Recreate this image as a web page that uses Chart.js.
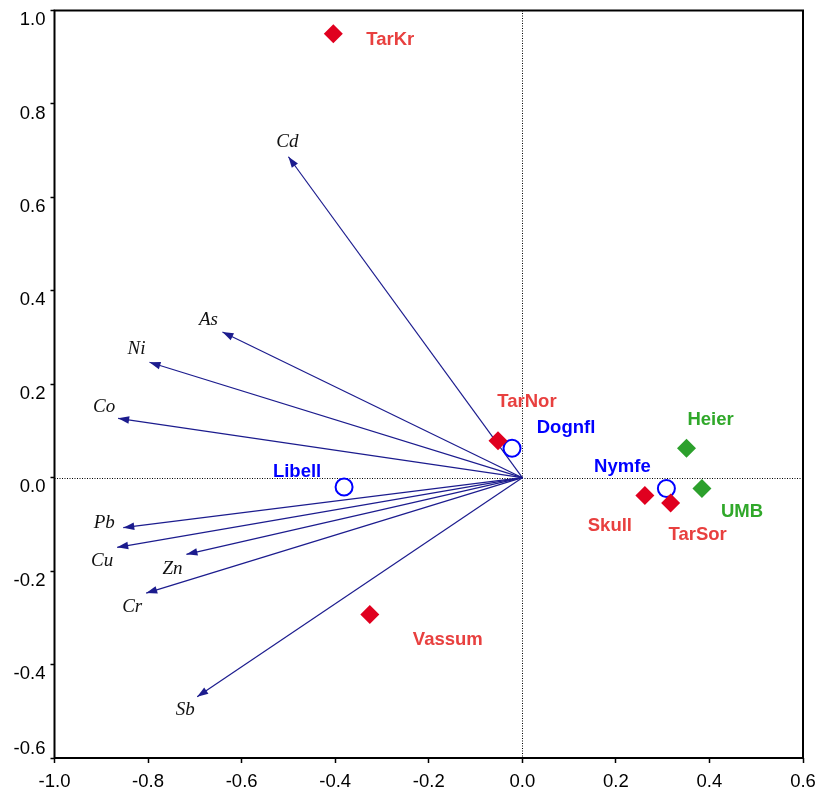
<!DOCTYPE html>
<html>
<head>
<meta charset="utf-8">
<script src="https://cdn.jsdelivr.net/npm/chart.js@4.4.0/dist/chart.umd.min.js"></script>
<style>
  html, body { margin: 0; padding: 0; background: #fff; }
  #wrap { width: 818px; height: 792px; }
</style>
</head>
<body>
<div id="wrap"><canvas id="chart" width="818" height="792"></canvas></div>
<script>
// variable arrows (end points, from origin)
const varNames = ['Cd', 'As', 'Ni', 'Co', 'Pb', 'Cu', 'Zn', 'Cr', 'Sb'];
const varX = [-0.500, -0.641, -0.797, -0.864, -0.853, -0.866, -0.718, -0.804, -0.695];
const varY = [0.687, 0.312, 0.247, 0.127, -0.107, -0.149, -0.164, -0.247, -0.469];

// sites
const redNames = ['TarKr', 'TarNor', 'Skull', 'TarSor', 'Vassum'];
const redX = [-0.404, -0.052, 0.262, 0.317, -0.326];
const redY = [0.950, 0.079, -0.038, -0.054, -0.293];

const blueNames = ['Dognfl', 'Libell', 'Nymfe'];
const blueX = [-0.022, -0.381, 0.308];
const blueY = [0.063, -0.020, -0.023];

const greenNames = ['Heier', 'UMB'];
const greenX = [0.351, 0.384];
const greenY = [0.063, -0.023];

// axis ticks
const xTicks = [-1.0, -0.8, -0.6, -0.4, -0.2, 0.0, 0.2, 0.4, 0.6];
const yTicks = [-0.6, -0.4, -0.2, 0.0, 0.2, 0.4, 0.6, 0.8, 1.0];

// label placement (pixels from the point)
const varLabelOffsets = [[-1, -15], [-14, -12], [-13, -13], [-14, -11], [-19, -5], [-15, 14], [-14, 15], [-14, 14], [-12, 13]];
const redLabelOffsets = [[57, 6], [29, -39], [-35, 30], [27, 32], [78, 25]];
const blueLabelOffsets = [[54, -20], [-47, -15], [-44, -22]];
const greenLabelOffsets = [[24, -28], [40, 23]];

const ARROW = '#1c1c8e';
const RED = '#e0001f';
const RED_TXT = '#e8403f';
const BLUE = '#0000ff';
const GREEN = '#2ca02c';
const GREEN_TXT = '#30a82a';
const SANS = '"Liberation Sans", Arial, sans-serif';
const SERIF = '"Liberation Serif", "Times New Roman", serif';

function pts(xs, ys) {
    return xs.map((x, i) => ({ x: x, y: ys[i] }));
}

let datasets = [];
datasets.push({
    label: 'red', data: pts(redX, redY), pointStyle: 'rectRot', pointRadius: 9.5,
    backgroundColor: RED, borderWidth: 0, names: redNames, offsets: redLabelOffsets, txt: RED_TXT
});
datasets.push({
    label: 'green', data: pts(greenX, greenY), pointStyle: 'rectRot', pointRadius: 9.5,
    backgroundColor: GREEN, borderWidth: 0, names: greenNames, offsets: greenLabelOffsets, txt: GREEN_TXT
});
datasets.push({
    label: 'blue', data: pts(blueX, blueY), pointStyle: 'circle', pointRadius: 8.5,
    backgroundColor: '#fff', borderColor: BLUE, borderWidth: 2, names: blueNames, offsets: blueLabelOffsets, txt: BLUE
});
for (let i = 0; i < varNames.length; i++) {
    datasets.push({
        label: varNames[i], arrow: true,
        data: [{ x: 0, y: 0 }, { x: varX[i], y: varY[i] }],
        showLine: true, borderColor: ARROW, borderWidth: 1.2, pointRadius: 0
    });
}

const biplotPlugin = {
    id: 'biplot',
    beforeDatasetsDraw(chart) {
        const ctx = chart.ctx, a = chart.chartArea;
        const x0 = chart.scales.x.getPixelForValue(0);
        const y0 = chart.scales.y.getPixelForValue(0);
        ctx.save();
        ctx.strokeStyle = '#000';
        ctx.lineWidth = 1;
        ctx.setLineDash([1, 1.5]);
        ctx.beginPath();
        ctx.moveTo(a.left, Math.round(y0) + 0.5);
        ctx.lineTo(a.right, Math.round(y0) + 0.5);
        ctx.moveTo(Math.round(x0) + 0.5, a.top);
        ctx.lineTo(Math.round(x0) + 0.5, a.bottom);
        ctx.stroke();
        ctx.restore();
    },
    afterDatasetsDraw(chart) {
        const ctx = chart.ctx;
        ctx.save();
        chart.data.datasets.forEach((ds, di) => {
            const meta = chart.getDatasetMeta(di);
            if (ds.arrow) {
                const p0 = meta.data[0], p1 = meta.data[1];
                const ang = Math.atan2(p1.y - p0.y, p1.x - p0.x);
                const len = 11, hw = 3.8;
                ctx.fillStyle = ARROW;
                ctx.beginPath();
                ctx.moveTo(p1.x, p1.y);
                ctx.lineTo(p1.x - len * Math.cos(ang) + hw * Math.sin(ang), p1.y - len * Math.sin(ang) - hw * Math.cos(ang));
                ctx.lineTo(p1.x - len * Math.cos(ang) - hw * Math.sin(ang), p1.y - len * Math.sin(ang) + hw * Math.cos(ang));
                ctx.closePath();
                ctx.fill();
                const k = varNames.indexOf(ds.label);
                ctx.font = 'italic 19px ' + SERIF;
                ctx.fillStyle = '#111';
                ctx.textAlign = 'center';
                ctx.textBaseline = 'middle';
                ctx.fillText(ds.label, p1.x + varLabelOffsets[k][0], p1.y + varLabelOffsets[k][1]);
            } else {
                ctx.font = 'bold 18.5px ' + SANS;
                ctx.fillStyle = ds.txt;
                ctx.textAlign = 'center';
                ctx.textBaseline = 'middle';
                meta.data.forEach((p, i) => {
                    ctx.fillText(ds.names[i], p.x + ds.offsets[i][0], p.y + ds.offsets[i][1]);
                });
            }
        });
        ctx.restore();
    },
    afterDraw(chart) {
        const ctx = chart.ctx, a = chart.chartArea;
        ctx.save();
        ctx.strokeStyle = '#000';
        ctx.lineWidth = 2;
        ctx.strokeRect(a.left, a.top, a.right - a.left, a.bottom - a.top);
        ctx.restore();
    }
};

const ctx = document.getElementById('chart').getContext('2d');
new Chart(ctx, {
    type: 'scatter',
    data: { datasets: datasets },
    options: {
        responsive: false,
        animation: false,
        layout: { padding: { top: 10.5, right: 15, left: 0, bottom: 0 } },
        plugins: { legend: { display: false }, tooltip: { enabled: false } },
        scales: {
            x: {
                type: 'linear', min: -1.0, max: 0.6,
                afterBuildTicks: s => { s.ticks = xTicks.map(v => ({ value: v })); },
                afterFit: s => { s.height = 34; s.paddingLeft = 0; s.paddingRight = 0; },
                border: { display: false },
                grid: { display: true, drawOnChartArea: false, drawTicks: true, tickLength: 5, tickColor: '#000', tickWidth: 1.5 },
                ticks: {
                    color: '#000', padding: 8, maxRotation: 0,
                    font: { family: SANS, size: 18.5 },
                    callback: v => v.toFixed(1)
                }
            },
            y: {
                type: 'linear', min: -0.6, max: 1.0,
                afterBuildTicks: s => { s.ticks = yTicks.map(v => ({ value: v })); },
                afterFit: s => { s.width = 54.5; s.paddingTop = 0; s.paddingBottom = 0; },
                border: { display: false },
                grid: { display: true, drawOnChartArea: false, drawTicks: true, tickLength: 4, tickColor: '#000', tickWidth: 1.5 },
                ticks: {
                    color: '#000', padding: 5, labelOffset: 9.5, autoSkip: false,
                    font: c => ({ family: SANS, size: 18.5, lineHeight: (c.tick && Math.abs(c.tick.value + 0.6) < 1e-9) ? 2 : 1.2 }),
                    callback: v => Math.abs(v + 0.6) < 1e-9 ? [v.toFixed(1), ''] : v.toFixed(1)
                }
            }
        }
    },
    plugins: [biplotPlugin]
});
</script>
</body>
</html>
